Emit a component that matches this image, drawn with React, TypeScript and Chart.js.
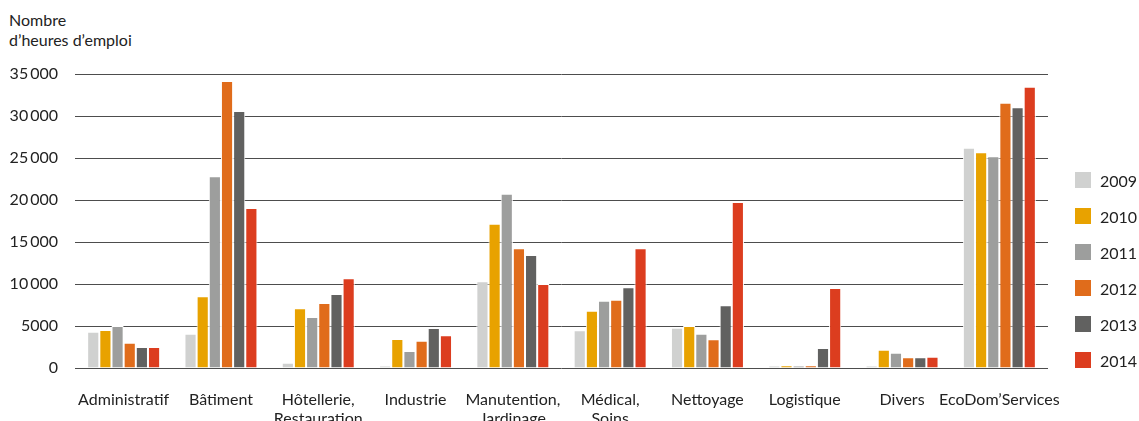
import { useEffect, useRef } from 'react'
import { Chart, registerables } from 'chart.js'

Chart.register(...registerables)

const CATEGORIES: (string | string[])[] = [
  'Administratif',
  'Bâtiment',
  ['Hôtellerie,', 'Restauration'],
  'Industrie',
  ['Manutention,', 'Jardinage'],
  ['Médical,', 'Soins'],
  'Nettoyage',
  'Logistique',
  'Divers',
  'EcoDom’Services',
]

const YEARS = ['2009', '2010', '2011', '2012', '2013', '2014']
const COLORS = ['#d0d1d0', '#e8a200', '#9d9e9d', '#e06c1b', '#616160', '#dc3d1f']

const H2009 = [4320, 4090, 630, 300, 10320, 4480, 4800, 300, 280, 26230]
const H2010 = [4520, 8530, 7100, 3450, 17180, 6830, 5000, 340, 2180, 25670]
const H2011 = [5000, 22820, 6070, 2020, 20750, 8020, 4090, 300, 1830, 25200]
const H2012 = [3010, 34170, 7740, 3250, 14250, 8130, 3410, 340, 1270, 31590]
const H2013 = [2500, 30600, 8810, 4760, 13450, 9600, 7460, 2380, 1270, 31030]
const H2014 = [2500, 19050, 10670, 3890, 10000, 14250, 19760, 9520, 1350, 33490]

const SERIES = [H2009, H2010, H2011, H2012, H2013, H2014]

const FONT = 'Lato, "Liberation Sans", sans-serif'
const TEXT = '#222'

function formatTick(v: number) {
  if (v < 10000) return String(v)
  return String(v).replace(/\B(?=(\d{3})+(?!\d))/g, '\u2009')
}

export default function App() {
  const canvasRef = useRef<HTMLCanvasElement>(null)

  useEffect(() => {
    document.body.style.margin = '0'
    if (!canvasRef.current) return
    const chart = new Chart(canvasRef.current, {
      type: 'bar',
      data: {
        labels: CATEGORIES,
        datasets: YEARS.map((year, i) => ({
          label: year,
          data: SERIES[i],
          backgroundColor: COLORS[i],
          borderColor: '#ffffff',
          borderWidth: 1,
          barPercentage: 1,
          categoryPercentage: 0.75,
        })),
      },
      options: {
        animation: false,
        responsive: false,
        maintainAspectRatio: false,
        layout: { padding: { top: 74, right: 91, left: 0, bottom: 0 } },
        plugins: { legend: { display: false }, tooltip: { enabled: false } },
        scales: {
          x: {
            grid: { display: false, drawTicks: false },
            border: { display: false },
            ticks: { color: TEXT, font: { family: FONT, size: 16 }, padding: 22, maxRotation: 0, autoSkip: false },
            afterFit: (scale) => {
              scale.height = 53
            },
          },
          y: {
            min: 0,
            max: 35000,
            ticks: {
              stepSize: 5000,
              color: TEXT,
              font: { family: FONT, size: 16 },
              padding: 17,
              callback: (v) => formatTick(Number(v)),
            },
            grid: { color: '#4d4d4d', lineWidth: 1, drawTicks: false },
            border: { display: false },
            afterFit: (scale) => {
              scale.width = 75
            },
          },
        },
      },
    })
    return () => chart.destroy()
  }, [])

  return (
    <div style={{ position: 'relative', width: 1139, height: 421, overflow: 'hidden', fontFamily: FONT, color: TEXT }}>
      <div style={{ position: 'absolute', left: 9, top: 10, fontSize: 16, lineHeight: '20px' }}>
        Nombre
        <br />
        d’heures d’emploi
      </div>
      <canvas ref={canvasRef} width={1139} height={421} style={{ position: 'absolute', left: 0, top: 0 }} />
      {YEARS.map((year, i) => (
        <div
          key={year}
          style={{ position: 'absolute', left: 1075, top: 172 + i * 36, height: 16, display: 'flex', alignItems: 'center', fontSize: 16 }}
        >
          <span style={{ width: 16, height: 16, background: COLORS[i], display: 'inline-block', marginRight: 9 }} />
          {year}
        </div>
      ))}
    </div>
  )
}
